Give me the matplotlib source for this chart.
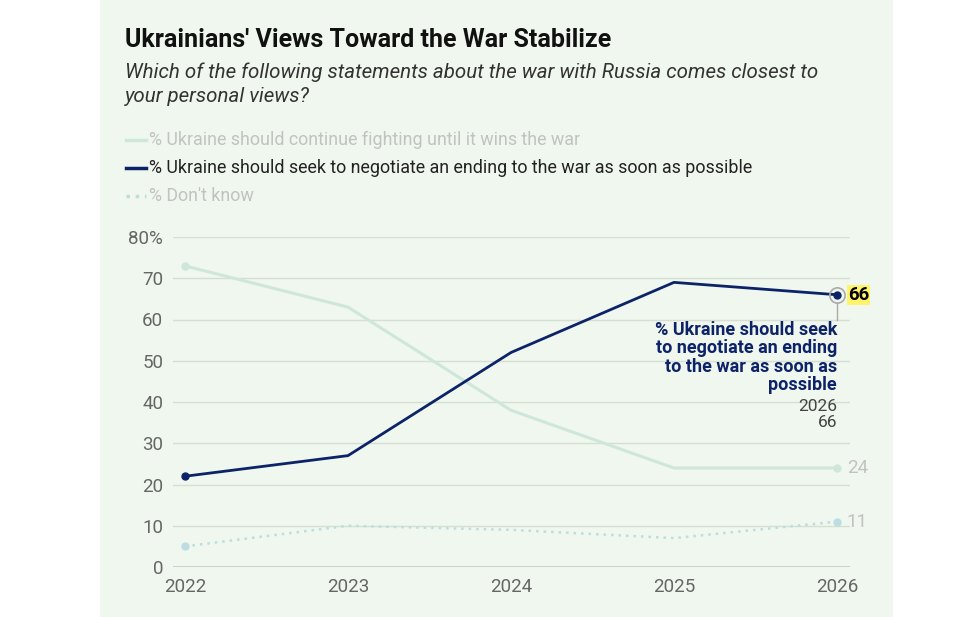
import matplotlib.pyplot as plt
from matplotlib.patches import Rectangle

years = [2022, 2023, 2024, 2025, 2026]
fighting = [73, 63, 38, 24, 24]
negotiate = [22, 27, 52, 69, 66]
dont_know = [5, 10, 9, 7, 11]
yticks = [0, 10, 20, 30, 40, 50, 60, 70, 80]
ytick_labels = ["0", "10", "20", "30", "40", "50", "60", "70", "80%"]

plt.rcParams['font.family'] = ['Roboto', 'DejaVu Sans']

BG = "#f0f7ee"
NAVY = "#0d2368"
GREEN = "#cfe7da"
BLUE = "#bcdde2"
GREY_TXT = "#c2c2c2"

W, H = 966, 617
fig = plt.figure(figsize=(W / 100, H / 100), dpi=100)
fig.patch.set_facecolor("white")
fig.add_artist(Rectangle((100 / W, 0), 793 / W, 1, transform=fig.transFigure,
                         facecolor=BG, edgecolor="none", zorder=0))

def fx(px):
    return px / W

def fy(py):
    return 1 - py / H

fig.text(fx(125), fy(40), "Ukrainians' Views Toward the War Stabilize",
         fontsize=18, fontweight="bold", color="#111111", va="center")
fig.text(fx(125), fy(84), "Which of the following statements about the war with Russia comes closest to\nyour personal views?",
         fontsize=14.8, style="italic", color="#333333", va="center", linespacing=1.32)

legend_items = [
    ("% Ukraine should continue fighting until it wins the war", GREEN, "-", GREY_TXT, 140),
    ("% Ukraine should seek to negotiate an ending to the war as soon as possible", NAVY, "-", "#222222", 168),
    ("% Don't know", BLUE, ":", GREY_TXT, 196),
]
for label, col, ls, tcol, py in legend_items:
    fig.add_artist(plt.Line2D([fx(126), fx(146)], [fy(py), fy(py)], color=col,
                              lw=2.5, ls=ls, transform=fig.transFigure))
    fig.text(fx(149), fy(py), label, fontsize=12.9, color=tcol, va="center")

left, right, bottom, top = 173, 850, 567, 237
ax = fig.add_axes([fx(left), fy(bottom), fx(right - left), (bottom - top) / H])
ax.set_facecolor("none")
ax.set_xlim(2022 - 12 / 163, 2026 + 13 / 163)
ax.set_ylim(0, 80)
for s in ax.spines.values():
    s.set_visible(False)
ax.set_yticks(yticks)
ax.set_yticklabels(ytick_labels)
ax.set_xticks(years)
ax.set_xticklabels([str(y) for y in years])
ax.tick_params(length=0, labelsize=13.5, colors="#666666")
ax.tick_params(axis="y", pad=7)
ax.tick_params(axis="x", pad=8)
ax.grid(axis="y", color="#d6dfd4", lw=1)
ax.axhline(0, color="#555555", lw=1)
ax.set_axisbelow(True)

ax.plot(years, fighting, color=GREEN, lw=2.2, zorder=2)
ax.plot(years, dont_know, color=BLUE, lw=1.8, ls=(0, (1, 2)), zorder=2)
ax.plot(years, negotiate, color=NAVY, lw=2, zorder=4)
for ys, col in [(fighting, GREEN), (dont_know, BLUE), (negotiate, NAVY)]:
    ax.plot([years[0], years[-1]], [ys[0], ys[-1]], "o", color=col, ms=5, zorder=5)

# hovered point
ax.plot(years[-1], negotiate[-1], "o", ms=11, mfc="none", mec="#aaaaaa", mew=1.2, zorder=5)
ax.plot([years[-1], years[-1]], [negotiate[-1] - 2, negotiate[-1] - 6], color="#aaaaaa", lw=1, zorder=5)
ax.annotate(str(negotiate[-1]), (years[-1], negotiate[-1]), xytext=(8, 0), textcoords="offset points",
            fontsize=13.5, fontweight="bold", color="black", va="center",
            bbox=dict(boxstyle="square,pad=0.05", fc="#fff36b", ec="none"))
ax.annotate(str(fighting[-1]), (years[-1], fighting[-1]), xytext=(7, 0), textcoords="offset points",
            fontsize=13.5, color=GREY_TXT, va="center")
ax.annotate(str(dont_know[-1]), (years[-1], dont_know[-1]), xytext=(7, 0), textcoords="offset points",
            fontsize=13.5, color=GREY_TXT, va="center")
ax.annotate("% Ukraine should seek\nto negotiate an ending\nto the war as soon as\npossible",
            (years[-1], negotiate[-1]), xytext=(0, -19), textcoords="offset points",
            fontsize=13, fontweight="bold", color=NAVY, ha="right", va="top", linespacing=1.02)
ax.annotate("2026\n66", (years[-1], negotiate[-1]), xytext=(0, -75), textcoords="offset points",
            fontsize=12.5, color="#444444", ha="right", va="top", linespacing=1.12)

fig.savefig("out.png", dpi=100, facecolor=fig.get_facecolor())
